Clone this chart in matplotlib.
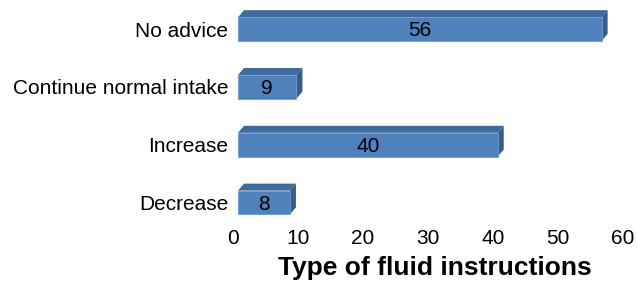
import matplotlib.pyplot as plt
import matplotlib.transforms as mtransforms
from matplotlib.patches import Polygon

# data (bottom to top)
categories = ["Decrease", "Increase", "Continue normal intake", "No advice"]
counts = [8, 40, 9, 56]
xticks = [0, 10, 20, 30, 40, 50, 60]

front_color = "#4F81BD"
top_color = "#3F6A9C"
side_color = "#385D8A"

plt.rcParams["font.family"] = ["Liberation Sans", "DejaVu Sans"]

fig = plt.figure(figsize=(6.38, 2.82), dpi=100)
ax = fig.add_axes([238 / 638, 1 - 231.4 / 282, 389.6 / 638, 231.3 / 282])
ax.set_xlim(0, 60)
ax.set_ylim(-0.5, 3.5)

# pixel -> data conversion for the 3D depth
px_x = 60 / 389.6
px_y = 4 / 231.3
dx = 6 * px_x
dy = 7 * px_y
h = 0.41

ypos = list(range(len(categories)))
ax.barh(ypos, counts, height=h, color=front_color, edgecolor="#6F9AD0", linewidth=0.6, zorder=3)

for y, v in zip(ypos, counts):
    top = y + h / 2
    bot = y - h / 2
    ax.add_patch(Polygon([(0, top), (v, top), (v + dx, top + dy), (dx, top + dy)],
                         closed=True, facecolor=top_color, edgecolor="none", zorder=2))
    ax.add_patch(Polygon([(v, bot), (v + dx, bot + dy), (v + dx, top + dy), (v, top)],
                         closed=True, facecolor=side_color, edgecolor="none", zorder=2))
    ax.text(v / 2, y - 0.03, str(v), ha="center", va="center", fontsize=15, color="black", zorder=4)

ax.set_yticks(ypos)
ax.set_yticklabels(categories, fontsize=15)
ax.set_xticks(xticks)
ax.set_xticklabels([str(t) for t in xticks], fontsize=15)
ax.tick_params(axis="both", length=0)
ax.tick_params(axis="y", pad=7)
ax.tick_params(axis="x", pad=-2)

# shift x tick labels slightly left (labels sit on the back plane)
shift = mtransforms.ScaledTranslation(-5 / 100, 0, fig.dpi_scale_trans)
for lbl in ax.get_xticklabels():
    lbl.set_transform(lbl.get_transform() + shift)

ax.set_xlabel("Type of fluid instructions", fontsize=19, fontweight="bold", labelpad=5)
ax.xaxis.set_label_coords(435 / 638, 1 - 268 / 282, transform=fig.transFigure)
ax.xaxis.label.set_va("center")

for s in ax.spines.values():
    s.set_visible(False)

fig.savefig("out.png", dpi=100)
